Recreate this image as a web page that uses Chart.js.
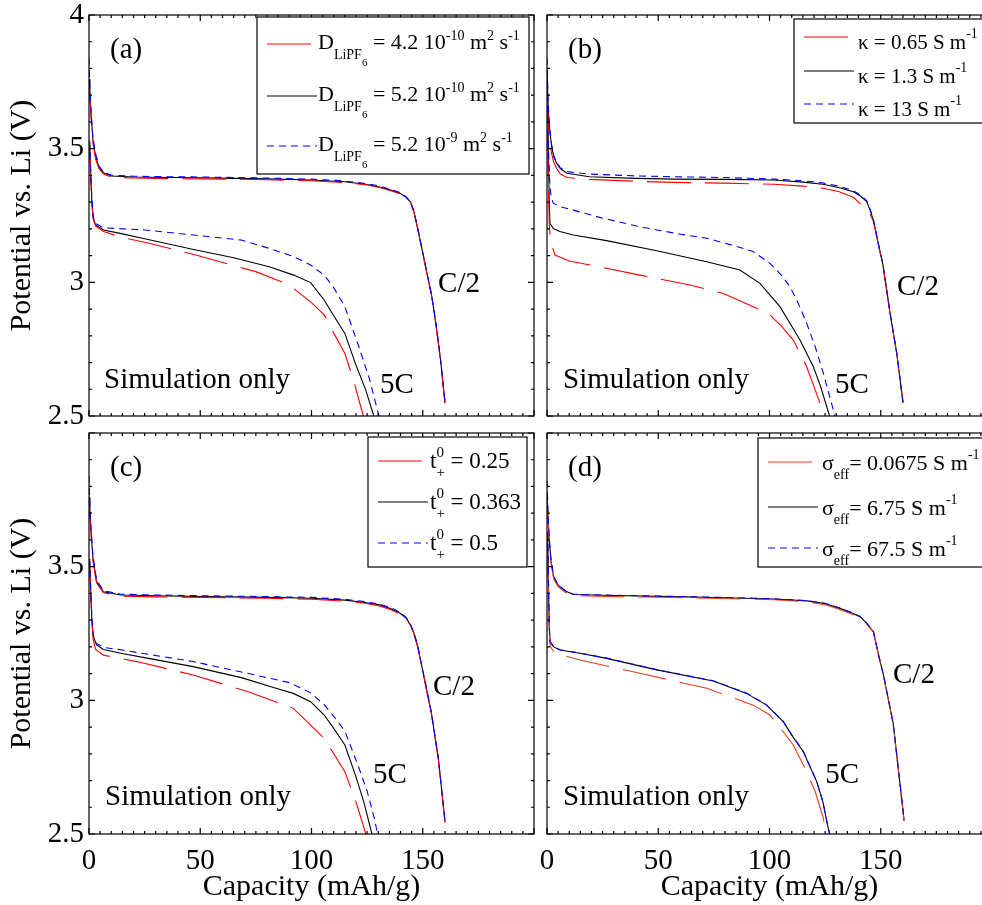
<!DOCTYPE html>
<html>
<head>
<meta charset="utf-8">
<script src="https://cdn.jsdelivr.net/npm/chart.js@4.4.1/dist/chart.umd.min.js"></script>
<style>
  html, body { margin: 0; padding: 0; background: #fff; width: 982px; height: 905px; overflow: hidden; }
  canvas { position: absolute; }
</style>
</head>
<body>
<canvas id="chA" width="540" height="433" style="left:0;top:0"></canvas>
<canvas id="chB" width="460" height="433" style="left:540px;top:0"></canvas>
<canvas id="chC" width="540" height="480" style="left:0;top:425px"></canvas>
<canvas id="chD" width="460" height="480" style="left:540px;top:425px"></canvas>
<script>
// Discharge curves, 4 sensitivity panels (C/2 and 5C)
const FONT = "'Liberation Serif', 'Times New Roman', serif";
const RED = '#ff0000', BLACK = '#000000', BLUE = '#0000ff', RED_D = '#ea3c1e';

const xTicks = [0, 50, 100, 150];
const yTicks = [2.5, 3, 3.5, 4];

// ====== (a) diffusivity ======
const capA_c2 = [0, 0.4, 1, 1.8, 3, 4.5, 6.5, 10, 20, 35, 50, 65, 80, 100, 115, 125, 131, 136, 140, 142.5, 144.5, 146, 147.5, 150, 152, 154, 156, 158, 160];
const potA_c2_red   = [3.75, 3.69, 3.61, 3.52, 3.46, 3.425, 3.405, 3.394, 3.39, 3.388, 3.387, 3.386, 3.384, 3.380, 3.373, 3.364, 3.354, 3.342, 3.330, 3.316, 3.298, 3.263, 3.208, 3.108, 3.028, 2.948, 2.838, 2.708, 2.548];
const potA_c2_black = [3.76, 3.70, 3.62, 3.53, 3.47, 3.43, 3.41, 3.398, 3.394, 3.392, 3.391, 3.389, 3.387, 3.383, 3.376, 3.366, 3.356, 3.344, 3.332, 3.318, 3.300, 3.265, 3.210, 3.110, 3.030, 2.950, 2.840, 2.710, 2.550];
const potA_c2_blue  = [3.84, 3.72, 3.63, 3.54, 3.48, 3.435, 3.413, 3.401, 3.397, 3.395, 3.394, 3.392, 3.390, 3.386, 3.379, 3.369, 3.359, 3.347, 3.335, 3.320, 3.302, 3.267, 3.212, 3.112, 3.032, 2.952, 2.842, 2.712, 2.552];
const capA_5c_red   = [0.3, 0.8, 1.3, 1.9, 3, 6.5, 14, 27, 48, 75, 90, 99.6, 105.7, 110, 115, 119, 123.3];
const potA_5c_red   = [3.51, 3.39, 3.29, 3.235, 3.21, 3.19, 3.17, 3.146, 3.102, 3.04, 2.99, 2.927, 2.878, 2.81, 2.734, 2.63, 2.50];
const capA_5c_black = [0.3, 0.8, 1.3, 1.9, 3, 6.5, 14, 25, 47, 65, 81, 92, 99.6, 105.7, 110, 115, 119.7, 124.4, 128];
const potA_5c_black = [3.52, 3.40, 3.30, 3.24, 3.215, 3.196, 3.183, 3.163, 3.123, 3.092, 3.058, 3.027, 2.999, 2.934, 2.875, 2.809, 2.697, 2.597, 2.50];
const capA_5c_blue  = [0.3, 0.8, 1.3, 1.9, 3, 6.5, 15, 25, 47, 68.5, 81, 92, 99.6, 105.7, 110, 115, 121.3, 126, 130.3];
const potA_5c_blue  = [3.53, 3.41, 3.31, 3.245, 3.22, 3.204, 3.2, 3.196, 3.177, 3.158, 3.127, 3.096, 3.065, 3.027, 2.98, 2.909, 2.759, 2.64, 2.50];

// ====== (b) conductivity ======
const capB_c2 = [0, 0.6, 1.2, 2.1, 3, 4.4, 6, 9, 19, 40, 57, 80, 102, 115, 124, 131, 137.7, 141, 143.7, 145.2, 146.7, 149, 151, 154.2, 157.2, 160];
const potB_c2_red   = [3.72, 3.60, 3.53, 3.48, 3.45, 3.425, 3.405, 3.392, 3.385, 3.378, 3.374, 3.371, 3.367, 3.360, 3.352, 3.340, 3.318, 3.292, 3.272, 3.255, 3.228, 3.138, 3.062, 2.882, 2.732, 2.548];
const potB_c2_black = [3.78, 3.645, 3.57, 3.507, 3.47, 3.445, 3.425, 3.408, 3.395, 3.389, 3.386, 3.385, 3.383, 3.375, 3.367, 3.355, 3.339, 3.322, 3.302, 3.27, 3.233, 3.14, 3.065, 2.884, 2.734, 2.55];
const potB_c2_blue  = [3.84, 3.66, 3.58, 3.515, 3.475, 3.448, 3.428, 3.414, 3.405, 3.398, 3.395, 3.392, 3.386, 3.380, 3.372, 3.36, 3.343, 3.326, 3.305, 3.275, 3.236, 3.142, 3.067, 2.886, 2.736, 2.552];
const capB_5c_red   = [0.3, 0.7, 1.0, 1.4, 2.1, 3.6, 10, 19.3, 41.8, 64.3, 79.3, 92.7, 100.2, 105.5, 110.7, 116.7, 120, 122.7, 123.5];
const potB_5c_red   = [3.56, 3.35, 3.22, 3.17, 3.14, 3.102, 3.08, 3.065, 3.027, 2.99, 2.958, 2.909, 2.878, 2.835, 2.784, 2.684, 2.61, 2.547, 2.50];
const capB_5c_black = [0.3, 0.7, 1.0, 1.35, 3, 5.8, 11.8, 26.8, 49.3, 71.8, 86.7, 95.7, 104.7, 109, 113.7, 119.7, 123, 126.4, 127];
const potB_5c_black = [3.66, 3.45, 3.30, 3.22, 3.20, 3.19, 3.177, 3.156, 3.118, 3.077, 3.046, 2.996, 2.909, 2.85, 2.784, 2.684, 2.61, 2.516, 2.50];
const capB_5c_blue  = [0.3, 0.7, 1.2, 1.8, 2.8, 6, 11.8, 25, 41.8, 60, 71.8, 85, 92.7, 100.2, 105, 109.2, 113, 116.7, 120.5, 124.2, 128.7, 129.3];
const potB_5c_blue  = [3.62, 3.5, 3.38, 3.32, 3.296, 3.283, 3.27, 3.24, 3.208, 3.18, 3.165, 3.135, 3.115, 3.071, 3.03, 2.984, 2.92, 2.847, 2.76, 2.66, 2.522, 2.50];

// ====== (c) transference number ======
const capC_c2 = [0, 0.4, 1, 1.8, 3.4, 6.5, 14.3, 30, 53, 80, 100.3, 115, 124, 130.6, 136, 140, 142.5, 144.5, 146, 147.6, 150.7, 153.8, 157, 160];
const potC_c2_red   = [3.75, 3.69, 3.61, 3.52, 3.44, 3.402, 3.390, 3.387, 3.385, 3.382, 3.378, 3.371, 3.363, 3.353, 3.338, 3.322, 3.305, 3.28, 3.25, 3.204, 3.079, 2.954, 2.78, 2.543];
const potC_c2_black = [3.76, 3.70, 3.62, 3.53, 3.444, 3.406, 3.394, 3.391, 3.388, 3.385, 3.382, 3.375, 3.366, 3.357, 3.342, 3.325, 3.308, 3.282, 3.252, 3.207, 3.082, 2.957, 2.783, 2.546];
const potC_c2_blue  = [3.84, 3.72, 3.63, 3.54, 3.45, 3.41, 3.397, 3.394, 3.391, 3.388, 3.385, 3.378, 3.369, 3.36, 3.345, 3.328, 3.31, 3.284, 3.254, 3.209, 3.084, 2.959, 2.785, 2.548];
const capC_5c_red   = [0.3, 0.8, 1.3, 1.9, 3, 6.5, 22, 46.8, 71.6, 91.8, 98, 105.7, 110, 115, 120, 124.4];
const potC_5c_red   = [3.51, 3.39, 3.29, 3.225, 3.19, 3.169, 3.144, 3.095, 3.032, 2.97, 2.92, 2.858, 2.80, 2.733, 2.62, 2.50];
const capC_5c_black = [0.3, 0.8, 1.3, 1.9, 3.4, 6.5, 14.3, 26.7, 46.8, 68.5, 84, 91.8, 99.6, 105.7, 110, 115, 119.7, 123.5, 126.7, 127.2];
const potC_5c_black = [3.52, 3.40, 3.30, 3.24, 3.207, 3.19, 3.176, 3.157, 3.126, 3.085, 3.045, 3.026, 2.995, 2.945, 2.895, 2.833, 2.721, 2.62, 2.515, 2.50];
const capC_5c_blue  = [0.3, 0.8, 1.3, 1.9, 3, 6.5, 15, 26.7, 46.8, 68.5, 90.2, 99.6, 105.7, 110, 115, 121.3, 125, 128.2, 129.7];
const potC_5c_blue  = [3.53, 3.41, 3.31, 3.245, 3.215, 3.198, 3.188, 3.172, 3.145, 3.106, 3.066, 3.028, 2.984, 2.94, 2.885, 2.748, 2.66, 2.56, 2.50];

// ====== (d) solid conductivity ======
const capD_c2 = [0, 0.5, 1, 1.8, 3, 5, 8, 11.8, 30, 56.8, 80, 101.7, 116.7, 125, 131.7, 136, 140.7, 143.5, 146.7, 149, 151.2, 153.5, 155.6, 158, 160.5];
const potD_c2_red   = [3.76, 3.67, 3.59, 3.515, 3.455, 3.425, 3.405, 3.392, 3.388, 3.385, 3.381, 3.376, 3.369, 3.358, 3.34, 3.326, 3.31, 3.288, 3.255, 3.168, 3.093, 2.998, 2.911, 2.733, 2.548];
const potD_c2_black = [3.78, 3.68, 3.60, 3.52, 3.46, 3.43, 3.41, 3.396, 3.392, 3.388, 3.384, 3.379, 3.372, 3.362, 3.344, 3.33, 3.313, 3.29, 3.257, 3.17, 3.095, 3.0, 2.913, 2.735, 2.55];
const potD_c2_blue  = [3.82, 3.69, 3.61, 3.525, 3.465, 3.432, 3.412, 3.397, 3.393, 3.389, 3.385, 3.38, 3.373, 3.363, 3.345, 3.331, 3.314, 3.291, 3.258, 3.171, 3.096, 3.001, 2.914, 2.736, 2.551];
const capD_5c_red   = [0.3, 0.7, 1.0, 1.5, 3.6, 14.8, 41.8, 71.8, 92.7, 100.2, 105.5, 110.7, 116.7, 120.5, 124.2, 125.6];
const potD_5c_red   = [3.56, 3.40, 3.27, 3.2, 3.176, 3.151, 3.101, 3.045, 2.982, 2.945, 2.89, 2.833, 2.733, 2.66, 2.559, 2.50];
const capD_5c_black = [0.3, 0.7, 1.0, 1.35, 3, 5.8, 14.8, 26.8, 49.3, 74.7, 89.7, 98.7, 106.2, 110, 115.2, 121.2, 124, 126.4, 127];
const potD_5c_black = [3.62, 3.42, 3.28, 3.219, 3.2, 3.188, 3.176, 3.157, 3.114, 3.072, 3.026, 2.982, 2.92, 2.87, 2.808, 2.696, 2.62, 2.521, 2.50];
const capD_5c_blue  = [0.3, 0.7, 1.0, 1.35, 3, 5.8, 14.8, 26.8, 49.3, 74.7, 89.7, 98.7, 106.2, 110, 115.2, 121.2, 124, 126.4, 127.1];
const potD_5c_blue  = [3.63, 3.43, 3.285, 3.22, 3.201, 3.189, 3.177, 3.158, 3.115, 3.073, 3.027, 2.983, 2.921, 2.871, 2.809, 2.697, 2.621, 2.522, 2.50];

// ====== Legend labels (runs: sup / sub / stacked) ======
const labelsA = [
  [{ t: 'D' }, { t: 'LiPF', sub: 1 }, { t: '6', sub: 2 }, { t: ' = 4.2 10' }, { t: '-10', sup: 1 }, { t: ' m' }, { t: '2', sup: 1 }, { t: ' s' }, { t: '-1', sup: 1 }],
  [{ t: 'D' }, { t: 'LiPF', sub: 1 }, { t: '6', sub: 2 }, { t: ' = 5.2 10' }, { t: '-10', sup: 1 }, { t: ' m' }, { t: '2', sup: 1 }, { t: ' s' }, { t: '-1', sup: 1 }],
  [{ t: 'D' }, { t: 'LiPF', sub: 1 }, { t: '6', sub: 2 }, { t: ' = 5.2 10' }, { t: '-9', sup: 1 }, { t: ' m' }, { t: '2', sup: 1 }, { t: ' s' }, { t: '-1', sup: 1 }]
];
const labelsB = [
  [{ t: 'κ = 0.65 S m' }, { t: '-1', sup: 1 }],
  [{ t: 'κ = 1.3 S m' }, { t: '-1', sup: 1 }],
  [{ t: 'κ = 13 S m' }, { t: '-1', sup: 1 }]
];
const labelsC = [
  [{ t: 't' }, { t: '0', sup: 1, stack: 1 }, { t: '+', sub: 1 }, { t: ' = 0.25' }],
  [{ t: 't' }, { t: '0', sup: 1, stack: 1 }, { t: '+', sub: 1 }, { t: ' = 0.363' }],
  [{ t: 't' }, { t: '0', sup: 1, stack: 1 }, { t: '+', sub: 1 }, { t: ' = 0.5' }]
];
const labelsD = [
  [{ t: 'σ' }, { t: 'eff', sub: 1 }, { t: '= 0.0675 S m' }, { t: '-1', sup: 1 }],
  [{ t: 'σ' }, { t: 'eff', sub: 1 }, { t: '= 6.75 S m' }, { t: '-1', sup: 1 }],
  [{ t: 'σ' }, { t: 'eff', sub: 1 }, { t: '= 67.5 S m' }, { t: '-1', sup: 1 }]
];

// ====== Helpers ======
const pts = (xs, ys) => xs.map((x, i) => ({ x, y: ys[i] }));
const DASH = { red: [44, 14], black: [], blue: [7, 5] };

const line = (color, dash, xs, ys) => ({
  data: pts(xs, ys), borderColor: color, borderWidth: 1.1, borderDash: dash,
  pointRadius: 0, showLine: true, fill: false, tension: 0
});

function drawRuns(ctx, runs, x, y, st) {
  let cx = x, pend = 0;
  for (const r of runs) {
    const size = r.sub === 2 ? st.subsub : (r.sub || r.sup) ? st.small : st.main;
    ctx.font = `${size}px ${FONT}`;
    const dy = r.sup ? -st.raise : r.sub === 2 ? st.drop2 : r.sub ? st.drop : 0;
    ctx.fillText(r.t, cx, y + dy);
    const w = ctx.measureText(r.t).width;
    if (r.stack) { pend = w; continue; }
    cx += Math.max(w, pend);
    pend = 0;
  }
}

// frame, inward ticks, legend and texts
const panelDeco = {
  id: 'panelDeco',
  afterDraw(chart, args, o) {
    const { ctx, chartArea: a, scales: { x, y } } = chart;
    ctx.save();
    ctx.strokeStyle = '#000';
    ctx.lineWidth = 1.2;
    ctx.strokeRect(a.left, a.top, a.right - a.left, a.bottom - a.top);
    ctx.beginPath();
    for (let i = 0; i <= 40; i++) {
      const px = x.getPixelForValue(i * 5), len = i % 10 === 0 ? 6 : 3;
      ctx.moveTo(px, a.bottom); ctx.lineTo(px, a.bottom - len);
      ctx.moveTo(px, a.top); ctx.lineTo(px, a.top + len);
    }
    for (let i = 0; i <= 15; i++) {
      const py = y.getPixelForValue(2.5 + i * 0.1), len = i % 5 === 0 ? 6 : 3;
      ctx.moveTo(a.left, py); ctx.lineTo(a.left + len, py);
      ctx.moveTo(a.right, py); ctx.lineTo(a.right - len, py);
    }
    ctx.stroke();

    // legend
    const lg = o.legend;
    const bx = a.right - lg.right - lg.w, by = a.top + lg.top;
    ctx.fillStyle = '#fff';
    ctx.fillRect(bx, by, lg.w, lg.h);
    ctx.strokeRect(bx, by, lg.w, lg.h);
    lg.items.forEach((it, i) => {
      const ry = by + lg.rows[i];
      ctx.strokeStyle = it.color;
      ctx.lineWidth = 1.1;
      ctx.setLineDash(it.dash);
      ctx.beginPath(); ctx.moveTo(bx + 10, ry); ctx.lineTo(bx + 60, ry); ctx.stroke();
      ctx.setLineDash([]);
      ctx.fillStyle = '#000';
      ctx.textBaseline = 'alphabetic';
      ctx.textAlign = 'left';
      drawRuns(ctx, it.runs, bx + lg.textX, ry + lg.base, lg.style);
    });

    // annotations
    ctx.fillStyle = '#000';
    ctx.font = `29px ${FONT}`;
    ctx.textAlign = 'left';
    ctx.textBaseline = 'middle';
    ctx.fillText(o.tag, a.left + 21, a.top + 35);
    ctx.textBaseline = 'alphabetic';
    ctx.fillText('Simulation only', a.left + o.sim.dx, a.bottom + o.sim.dy);
    ctx.fillText('C/2', x.getPixelForValue(o.c2[0]), y.getPixelForValue(o.c2[1]));
    ctx.fillText('5C', x.getPixelForValue(o.c5[0]), y.getPixelForValue(o.c5[1]));
    ctx.restore();
  }
};

Chart.defaults.color = '#000';
Chart.defaults.font.family = FONT;

function makePanel(id, cfg) {
  const left = cfg.left, bottom = cfg.bottom;
  const red = cfg.red || RED;
  return new Chart(document.getElementById(id), {
    type: 'scatter',
    data: {
      datasets: [
        line(BLUE, DASH.blue, cfg.c2x, cfg.c2[2]),
        line(red, DASH.red, cfg.c2x, cfg.c2[0]),
        line(BLACK, DASH.black, cfg.c2x, cfg.c2[1]),
        line(BLUE, DASH.blue, cfg.c5[2][0], cfg.c5[2][1]),
        line(red, DASH.red, cfg.c5[0][0], cfg.c5[0][1]),
        line(BLACK, DASH.black, cfg.c5[1][0], cfg.c5[1][1])
      ]
    },
    options: {
      responsive: false,
      animation: false,
      devicePixelRatio: 1,
      layout: { padding: { top: cfg.padTop, right: left ? 6 : 8, left: 0, bottom: 0 } },
      plugins: {
        legend: { display: false },
        tooltip: { enabled: false },
        panelDeco: {
          tag: cfg.tag, sim: cfg.sim, c2: cfg.c2Pos, c5: cfg.c5Pos,
          legend: Object.assign({}, cfg.legend, {
            items: [
              { color: red, dash: DASH.red, runs: cfg.labels[0] },
              { color: BLACK, dash: DASH.black, runs: cfg.labels[1] },
              { color: BLUE, dash: DASH.blue, runs: cfg.labels[2] }
            ]
          })
        }
      },
      scales: {
        x: {
          type: 'linear', min: 0, max: 200,
          grid: { display: false, drawTicks: false },
          border: { display: false },
          afterFit: s => { s.height = bottom ? 71 : 17; s.paddingLeft = 0; s.paddingRight = 0; },
          afterBuildTicks: s => { s.ticks = xTicks.map(v => ({ value: v })); },
          ticks: { display: bottom, padding: 10, font: { size: 29 }, callback: v => String(v) },
          title: { display: bottom, text: 'Capacity (mAh/g)', font: { size: 30 }, padding: { top: 0, bottom: 0 } }
        },
        y: {
          type: 'linear', min: 2.5, max: 4,
          grid: { display: false, drawTicks: false },
          border: { display: false },
          afterFit: s => { s.width = left ? 89 : 7; s.paddingTop = 0; s.paddingBottom = 0; },
          afterBuildTicks: s => { s.ticks = (bottom ? yTicks.slice(0, 3) : yTicks).map(v => ({ value: v })); },
          ticks: { display: left, padding: 5, font: { size: 29 }, callback: v => String(v) },
          title: { display: left, text: 'Potential vs. Li (V)', font: { size: 30 }, padding: { top: 4, bottom: 0 } }
        }
      }
    },
    plugins: [panelDeco]
  });
}

// ====== Boot ======
const styleA = { main: 22, small: 14, subsub: 11, raise: 9, drop: 10, drop2: 17 };
const styleB = { main: 21, small: 14, subsub: 10, raise: 11, drop: 9, drop2: 15 };
const styleC = { main: 23, small: 15, subsub: 10, raise: 11, drop: 9, drop2: 15 };
const styleD = { main: 22, small: 14, subsub: 10, raise: 11, drop: 9, drop2: 15 };

makePanel('chA', {
  left: true, bottom: false, padTop: 15, tag: '(a)',
  c2x: capA_c2, c2: [potA_c2_red, potA_c2_black, potA_c2_blue],
  c5: [[capA_5c_red, potA_5c_red], [capA_5c_black, potA_5c_black], [capA_5c_blue, potA_5c_blue]],
  sim: { dx: 15, dy: -28 }, c2Pos: [156.9, 2.964], c5Pos: [130.8, 2.586],
  labels: labelsA,
  legend: { right: 5, top: 2, w: 272, h: 157, rows: [27, 79, 129], textX: 61, base: 5, style: styleA }
});
makePanel('chB', {
  left: false, bottom: false, padTop: 15, tag: '(b)',
  c2x: capB_c2, c2: [potB_c2_red, potB_c2_black, potB_c2_blue],
  c5: [[capB_5c_red, potB_5c_red], [capB_5c_black, potB_5c_black], [capB_5c_blue, potB_5c_blue]],
  sim: { dx: 16, dy: -28 }, c2Pos: [157.3, 2.953], c5Pos: [129.4, 2.586],
  labels: labelsB,
  legend: { right: 5, top: 4, w: 193, h: 104, rows: [18, 52, 85], textX: 64, base: 12, style: styleB }
});
makePanel('chC', {
  left: true, bottom: true, padTop: 8, tag: '(c)',
  c2x: capC_c2, c2: [potC_c2_red, potC_c2_black, potC_c2_blue],
  c5: [[capC_5c_red, potC_5c_red], [capC_5c_black, potC_5c_black], [capC_5c_blue, potC_5c_blue]],
  sim: { dx: 16, dy: -29 }, c2Pos: [154.6, 3.02], c5Pos: [127.6, 2.69],
  labels: labelsC,
  legend: { right: 7, top: 4, w: 159, h: 130, rows: [24, 65, 106], textX: 62, base: 7, style: styleC }
});
makePanel('chD', {
  left: false, bottom: true, padTop: 8, tag: '(d)', red: RED_D,
  c2x: capD_c2, c2: [potD_c2_red, potD_c2_black, potD_c2_blue],
  c5: [[capD_5c_red, potD_5c_red], [capD_5c_black, potD_5c_black], [capD_5c_blue, potD_5c_blue]],
  sim: { dx: 16, dy: -29 }, c2Pos: [155.5, 3.065], c5Pos: [125, 2.69],
  labels: labelsD,
  legend: { right: 5, top: 5, w: 229, h: 129, rows: [24, 69, 110], textX: 64, base: 8, style: styleD }
});
</script>
</body>
</html>
